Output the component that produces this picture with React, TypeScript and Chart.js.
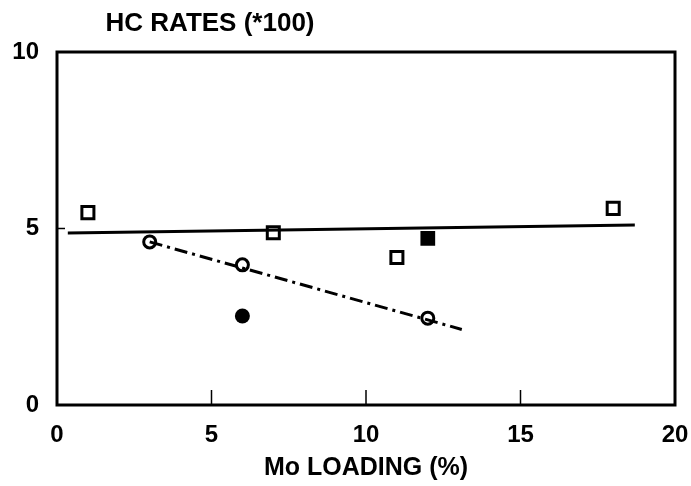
import React, { useEffect, useRef } from "react";
import { Chart, registerables } from "chart.js";

Chart.register(...registerables);

const openSquares = [
  { x: 1, y: 5.45 },
  { x: 7, y: 4.88 },
  { x: 11, y: 4.18 },
  { x: 18, y: 5.57 },
];
const filledSquares = [{ x: 12, y: 4.72 }];
const openCircles = [
  { x: 3, y: 4.62 },
  { x: 6, y: 3.97 },
  { x: 12, y: 2.46 },
];
const filledCircles = [{ x: 6, y: 2.52 }];
const solidFit = [
  { x: 0.35, y: 4.87 },
  { x: 18.7, y: 5.1 },
];
const dashFit = [
  { x: 3, y: 4.62 },
  { x: 13.1, y: 2.14 },
];
const xTicks = [0, 5, 10, 15, 20];
const yTicks = [0, 5, 10];
const innerXTicks = [5, 10, 15];
const innerYTicks = [5];

const FONT = "'Liberation Sans', Arial, sans-serif";

const framePlugin = {
  id: "frame",
  afterDatasetsDraw(chart: any) {
    const { ctx, chartArea, scales } = chart;
    ctx.save();
    ctx.strokeStyle = "#000";
    ctx.lineWidth = 3;
    ctx.strokeRect(chartArea.left, chartArea.top, chartArea.right - chartArea.left, chartArea.bottom - chartArea.top);
    ctx.lineWidth = 1.5;
    innerXTicks.forEach((v) => {
      const px = scales.x.getPixelForValue(v);
      ctx.beginPath();
      ctx.moveTo(px, chartArea.bottom);
      ctx.lineTo(px, chartArea.bottom - 15);
      ctx.stroke();
    });
    innerYTicks.forEach((v) => {
      const py = scales.y.getPixelForValue(v);
      ctx.beginPath();
      ctx.moveTo(chartArea.left, py);
      ctx.lineTo(chartArea.left + 8, py);
      ctx.stroke();
    });
    ctx.fillStyle = "#000";
    ctx.font = `bold 26px ${FONT}`;
    ctx.textAlign = "center";
    ctx.textBaseline = "middle";
    ctx.fillText("HC RATES (*100)", 210, 24);
    ctx.restore();
  },
};

export default function App() {
  const ref = useRef<HTMLCanvasElement>(null);
  useEffect(() => {
    if (!ref.current) return;
    const chart = new Chart(ref.current, {
      type: "scatter",
      data: {
        datasets: [
          {
            type: "line",
            data: solidFit,
            borderColor: "#000",
            borderWidth: 3,
            pointRadius: 0,
            fill: false,
          },
          {
            type: "line",
            data: dashFit,
            borderColor: "#000",
            borderWidth: 3,
            borderDash: [13, 5, 3, 5],
            pointRadius: 0,
            fill: false,
          },
          {
            data: openSquares,
            pointStyle: "rect",
            pointRadius: 8.5,
            borderWidth: 3,
            borderColor: "#000",
            backgroundColor: "#fff",
          },
          {
            data: filledSquares,
            pointStyle: "rect",
            pointRadius: 9,
            borderWidth: 2,
            borderColor: "#000",
            backgroundColor: "#000",
          },
          {
            data: openCircles,
            pointStyle: "circle",
            pointRadius: 6,
            borderWidth: 3,
            borderColor: "#000",
            backgroundColor: "#fff",
          },
          {
            data: filledCircles,
            pointStyle: "circle",
            pointRadius: 7.5,
            borderWidth: 0,
            borderColor: "#000",
            backgroundColor: "#000",
          },
        ],
      },
      options: {
        animation: false,
        responsive: false,
        maintainAspectRatio: false,
        layout: { padding: { left: 0, right: 16, top: 52, bottom: 0 } },
        plugins: { legend: { display: false }, tooltip: { enabled: false }, title: { display: false } },
        scales: {
          x: {
            type: "linear",
            min: 0,
            max: 20,
            afterFit: (s: any) => {
              s.height = 81;
              s.paddingLeft = 0;
              s.paddingRight = 0;
            },
            afterBuildTicks: (s: any) => {
              s.ticks = xTicks.map((v) => ({ value: v }));
            },
            grid: { display: false, drawTicks: false },
            border: { display: false },
            ticks: {
              padding: 16,
              color: "#000",
              font: { family: FONT, size: 24, weight: "bold" },
              maxRotation: 0,
            },
            title: {
              display: true,
              text: "Mo LOADING (%)",
              color: "#000",
              font: { family: FONT, size: 25, weight: "bold" },
              padding: { top: 0, bottom: 3 },
            },
          },
          y: {
            type: "linear",
            min: 0,
            max: 10,
            afterFit: (s: any) => {
              s.width = 57;
              s.paddingTop = 0;
              s.paddingBottom = 0;
            },
            afterBuildTicks: (s: any) => {
              s.ticks = yTicks.map((v) => ({ value: v }));
            },
            grid: { display: false, drawTicks: false },
            border: { display: false },
            ticks: {
              padding: 18,
              color: "#000",
              font: { family: FONT, size: 24, weight: "bold" },
            },
          },
        },
      },
      plugins: [framePlugin],
    } as any);
    return () => chart.destroy();
  }, []);
  return (
    <div style={{ position: "fixed", left: 0, top: 0, width: 691, height: 486, background: "#fff" }}>
      <canvas ref={ref} width={691} height={486} style={{ width: 691, height: 486 }} />
    </div>
  );
}
